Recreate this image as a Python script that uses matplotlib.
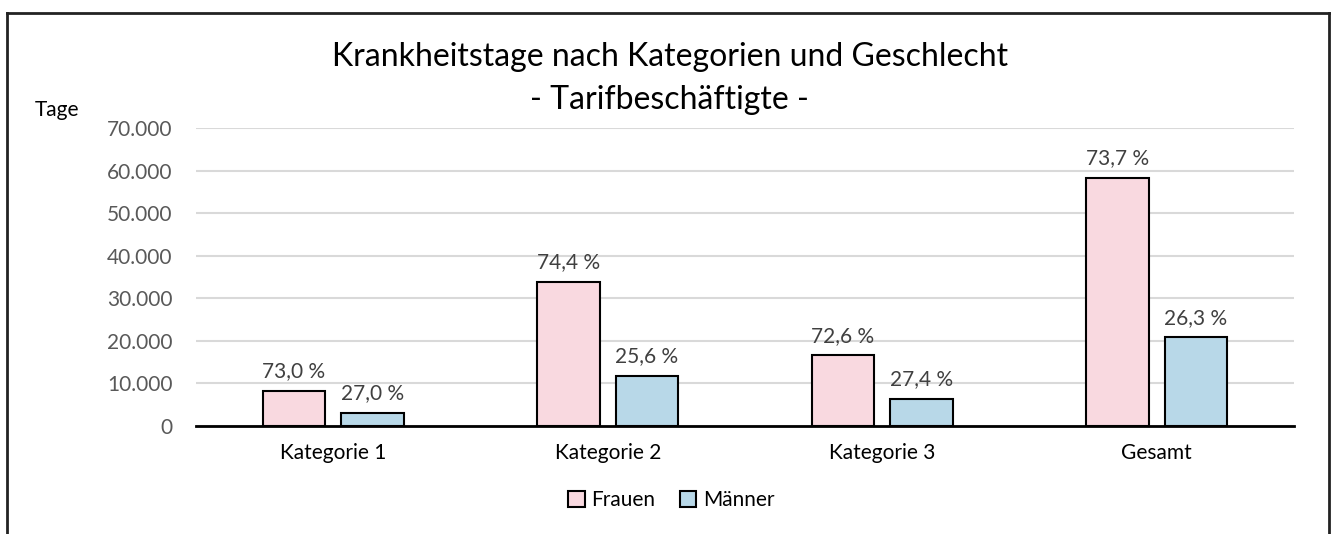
import matplotlib
matplotlib.use("Agg")
from matplotlib import pyplot as plt
from matplotlib.lines import Line2D
from matplotlib.patches import Patch
import numpy as np

plt.rcParams['font.family'] = ['Lato', 'DejaVu Sans']

categories = ["Kategorie 1", "Kategorie 2", "Kategorie 3", "Gesamt"]
frauen = [8200, 33800, 16600, 58200]
maenner = [3030, 11700, 6300, 20800]
frauen_pct = ["73,0 %", "74,4 %", "72,6 %", "73,7 %"]
maenner_pct = ["27,0 %", "25,6 %", "27,4 %", "26,3 %"]

PINK = "#f9d9e0"
BLUE = "#b8d8e8"
GRAY = "#595959"

fig = plt.figure(figsize=(13.34, 5.34), dpi=100)
ax = fig.add_axes([196 / 1334, 108 / 534, 1098 / 1334, 298 / 534])

x = np.arange(len(categories))
w = 0.226
off = 0.143
b1 = ax.bar(x - off, frauen, w, color=PINK, edgecolor="black", linewidth=1.5, zorder=3)
b2 = ax.bar(x + off, maenner, w, color=BLUE, edgecolor="black", linewidth=1.5, zorder=3)

for bars, labels in ((b1, frauen_pct), (b2, maenner_pct)):
    for rect, lab in zip(bars, labels):
        ax.annotate(lab, (rect.get_x() + rect.get_width() / 2, rect.get_height()),
                    xytext=(0, 7), textcoords="offset points", ha="center", va="bottom",
                    fontsize=15, color="#404040")

ax.set_xlim(-0.5, len(categories) - 0.5)
ax.set_ylim(0, 70000)
yt = np.arange(0, 70001, 10000)
ax.set_yticks(yt)
ax.set_yticklabels([f"{v:,}".replace(",", ".") for v in yt], fontsize=15, color=GRAY)
ax.set_xticks(x)
ax.set_xticklabels(categories, fontsize=15, color="black")
ax.tick_params(axis="y", length=0, pad=17)
ax.tick_params(axis="x", length=0, pad=12)
ax.grid(axis="y", color="#d9d9d9", linewidth=1.5, zorder=0)
for s in ("top", "right", "left"):
    ax.spines[s].set_visible(False)
ax.spines["bottom"].set_linewidth(2)
ax.spines["bottom"].set_zorder(4)

fig.text(0.502, 1 - 57 / 534, "Krankheitstage nach Kategorien und Geschlecht", ha="center", va="center", fontsize=23)
fig.text(0.502, 1 - 100 / 534, "- Tarifbeschäftigte -", ha="center", va="center", fontsize=23)
fig.text(35 / 1334, 1 - 110 / 534, "Tage", ha="left", va="center", fontsize=15)

handles = [Patch(facecolor=PINK, edgecolor="black", linewidth=1.5),
           Patch(facecolor=BLUE, edgecolor="black", linewidth=1.5)]
fig.legend(handles, ["Frauen", "Männer"], loc="center", bbox_to_anchor=(0.503, 1 - 500 / 534),
           ncol=2, frameon=False, fontsize=15, handlelength=0.8, handleheight=0.8,
           handletextpad=0.3, columnspacing=1.2)

# chart frame (top, left, right)
for xs, ys in (([7 / 1334, 1329 / 1334], [1 - 13 / 534] * 2),
               ([7 / 1334] * 2, [0, 1 - 13 / 534]),
               ([1329 / 1334] * 2, [0, 1 - 13 / 534])):
    fig.add_artist(Line2D(xs, ys, color="#222222", linewidth=2, transform=fig.transFigure))

fig.savefig("out.png", dpi=100)
